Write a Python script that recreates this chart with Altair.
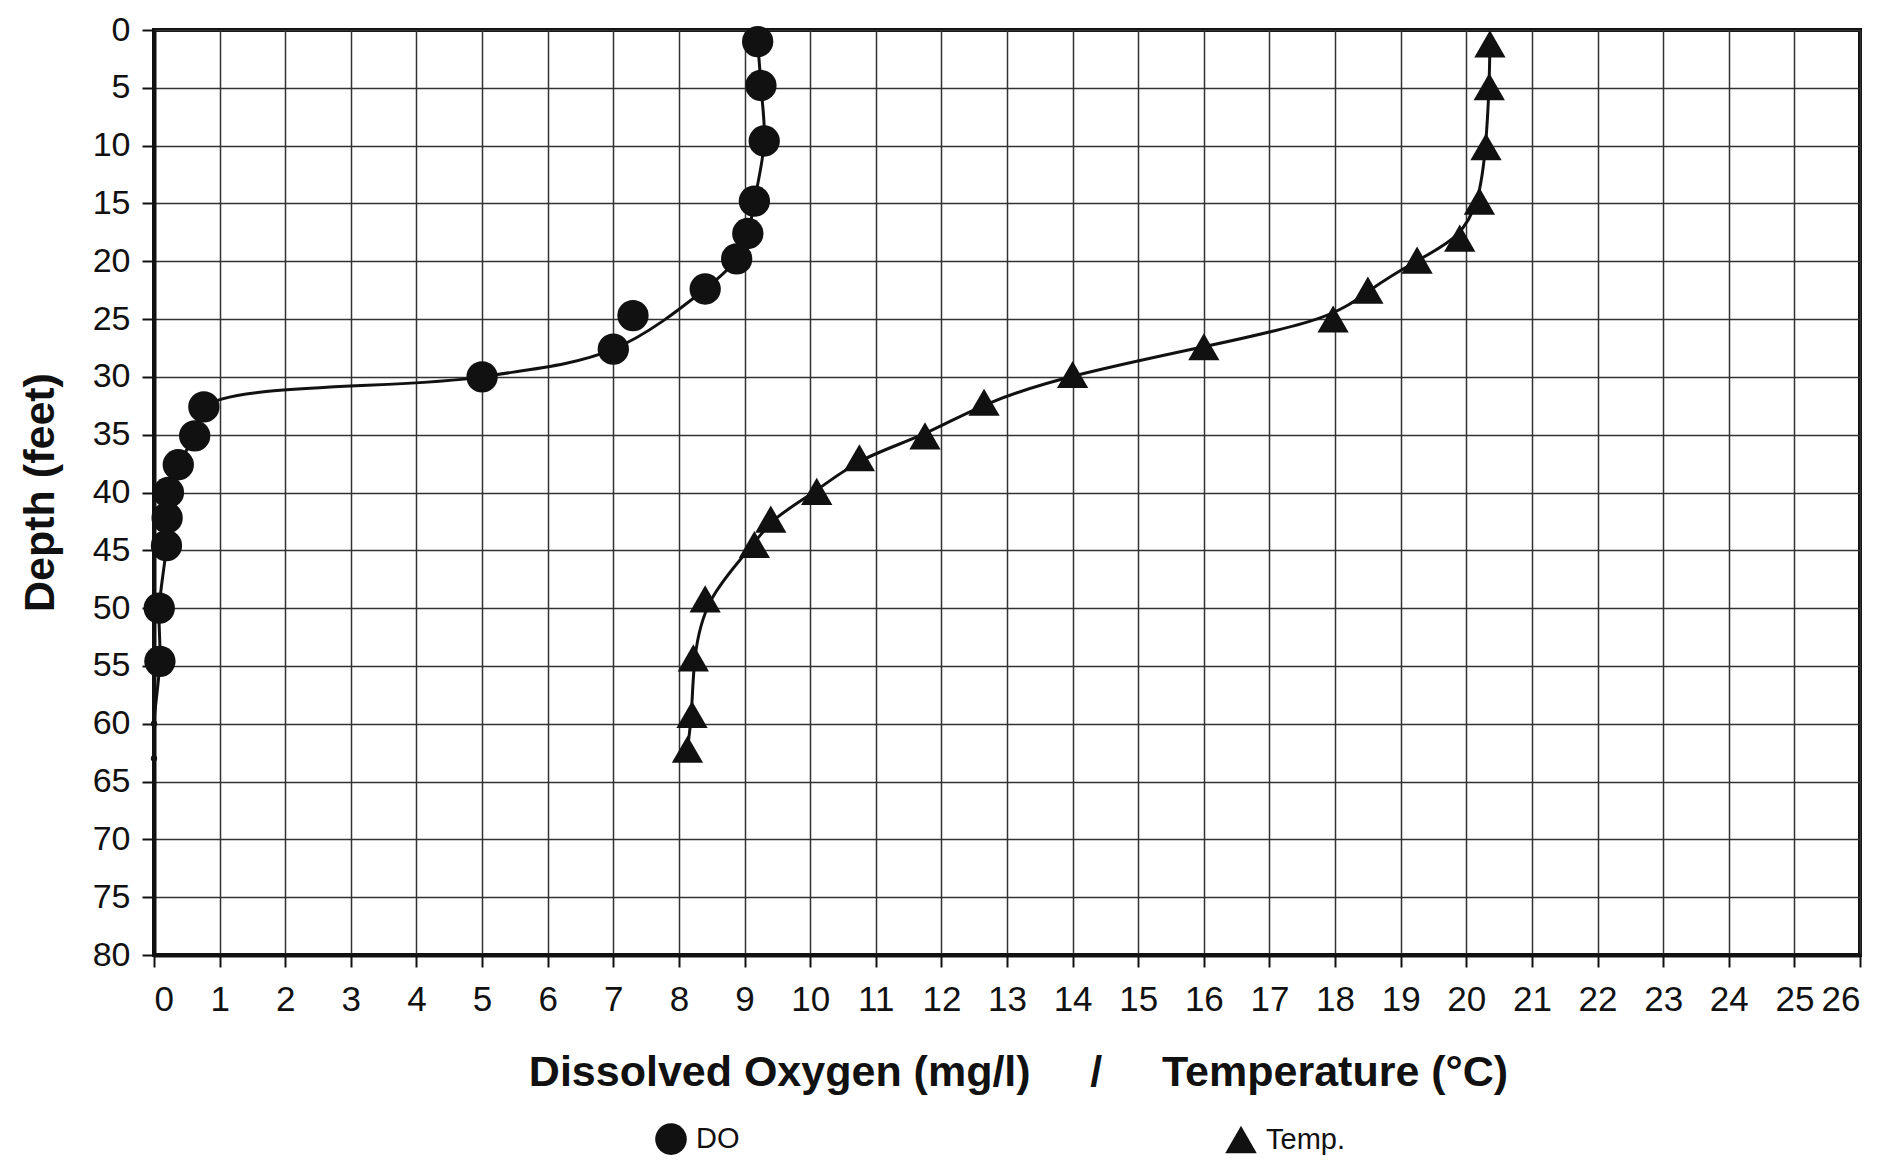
import altair as alt
import pandas as pd

# ---- data ----
depth_ticks = list(range(0, 85, 5))
value_ticks = list(range(0, 27))
series_names = ["DO", "Temp."]

do_depth = [1.0, 4.8, 9.6, 14.8, 17.6, 19.8, 22.4, 24.7, 27.6, 30.0, 32.6, 35.1,
            37.6, 40.0, 42.2, 44.6, 50.0, 54.6, 60.0, 63.0]
do_value = [9.2, 9.25, 9.3, 9.15, 9.05, 8.88, 8.4, 7.3, 7.0, 5.0, 0.76, 0.62,
            0.37, 0.22, 0.2, 0.19, 0.08, 0.09, 0.0, 0.0]

# smoothed DO curve as drawn (passes by the 24.7 ft reading)
do_curve_depth = [1.0, 4.8, 9.6, 14.8, 17.6, 19.8, 22.4, 27.6, 30.0, 32.6, 35.1,
                  37.6, 40.0, 42.2, 44.6, 50.0, 54.6, 60.0, 63.0]
do_curve_value = [9.2, 9.25, 9.3, 9.15, 9.05, 8.88, 8.4, 7.0, 5.0, 0.76, 0.62,
                  0.37, 0.22, 0.2, 0.19, 0.08, 0.09, 0.0, 0.0]

temp_depth = [1.2, 4.9, 10.1, 14.8, 18.0, 19.9, 22.5, 25.0, 27.4, 29.8, 32.2, 35.1,
              37.0, 39.9, 42.3, 44.5, 49.2, 54.3, 59.2, 62.2]
temp_value = [20.36, 20.35, 20.3, 20.2, 19.9, 19.25, 18.5, 17.97, 16.0, 14.0, 12.65, 11.75,
              10.75, 10.1, 9.4, 9.15, 8.4, 8.22, 8.2, 8.13]

points = pd.DataFrame({
    "series": ["DO"] * len(do_depth) + ["Temp."] * len(temp_depth),
    "depth": do_depth + temp_depth,
    "value": do_value + temp_value,
})
do_curve = pd.DataFrame({"depth": do_curve_depth, "value": do_curve_value})
temp_curve = pd.DataFrame({"depth": temp_depth, "value": temp_value})

FONT = "Liberation Sans"
NB = "\u00a0"
x_title = "Dissolved Oxygen (mg/l)" + NB * 5 + "/" + NB * 5 + "Temperature (°C)"

x_enc = alt.X(
    "value:Q",
    scale=alt.Scale(domain=[0, 26], nice=False, zero=False),
    axis=alt.Axis(values=value_ticks, title=x_title, titleX=864, titleY=117,
                  titleBaseline="middle", titleAlign="center",
                  labelPadding=15, tickSize=12, labelFontSize=35),
)
y_enc = alt.Y(
    "depth:Q",
    scale=alt.Scale(domain=[0, 80], reverse=True, nice=False, zero=False),
    axis=alt.Axis(values=depth_ticks, title="Depth (feet)", titleX=-114, titleY=462,
                  titleAngle=-90, titleBaseline="middle", titleAlign="center",
                  labelPadding=12, tickSize=12, labelFontSize=34),
)

do_line = alt.Chart(do_curve).mark_line(
    interpolate="catmull-rom", color="#111111", strokeWidth=3
).encode(x=x_enc, y=y_enc, order="depth:Q")

temp_line = alt.Chart(temp_curve).mark_line(
    interpolate="basis", color="#111111", strokeWidth=3
).encode(x=x_enc, y=y_enc, order="depth:Q")

pts = alt.Chart(points).mark_point(filled=True, opacity=1, color="#111111").encode(
    x=x_enc,
    y=y_enc,
    shape=alt.Shape(
        "series:N",
        scale=alt.Scale(domain=series_names, range=["circle", "triangle-up"]),
        legend=alt.Legend(
            title=None, orient="none", legendX=501, legendY=1093,
            direction="horizontal", labelFontSize=29, labelFont=FONT,
            labelColor="#111111", symbolSize=1000, symbolFillColor="#111111",
            symbolStrokeColor="#111111", symbolStrokeWidth=0,
            columnPadding=485, labelOffset=9, padding=0,
        ),
    ),
    size=alt.condition("datum.value == 0", alt.value(40), alt.value(980)),
)

chart = (
    alt.layer(do_line, temp_line, pts)
    .properties(
        width=1706, height=925,
        autosize=alt.AutoSizeParams(type="none"),
        padding={"left": 146, "top": 22, "right": 10, "bottom": 200},
        background="white",
    )
    .configure_view(stroke="#111111", strokeWidth=4)
    .configure_axis(
        labelFont=FONT, labelColor="#111111",
        titleFont=FONT, titleFontSize=43, titleFontWeight="bold", titleColor="#111111",
        grid=True, gridColor="#333333", gridWidth=1.5, gridOpacity=1,
        domainColor="#111111", domainWidth=4,
        tickColor="#111111", tickWidth=2,
    )
)

chart.save("out.html", embed_options={"renderer": "svg", "actions": False})
